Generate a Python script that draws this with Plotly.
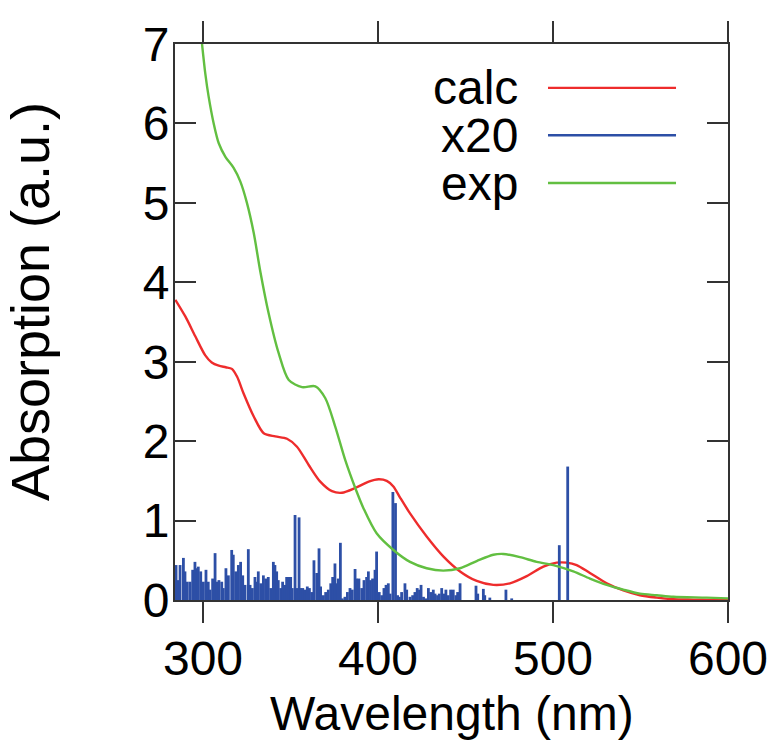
import plotly.graph_objects as go

# ---- data ----
calc_wl = [284.2, 289.9, 295.6, 301.3, 305.0, 309.0, 313.0, 316.5, 319.5, 323.2, 329.0, 334.7, 341.3, 348.0,
           353.7, 360.4, 367.0, 373.7, 379.4, 387.0, 394.7, 400.4, 405.0, 408.8, 412.6, 418.3, 427.8,
           437.3, 446.9, 456.4, 465.9, 475.4, 485.0, 494.5, 502.1, 507.8, 513.5, 521.1, 530.7,
           540.2, 549.7, 559.3, 568.8, 580.0, 590.0, 600.0]
calc_abs = [3.78, 3.57, 3.32, 3.08, 2.99, 2.95, 2.93, 2.91, 2.81, 2.60, 2.31, 2.10, 2.06, 2.03,
            1.93, 1.70, 1.49, 1.37, 1.35, 1.41, 1.49, 1.52, 1.50, 1.43, 1.29, 1.09, 0.80,
            0.55, 0.36, 0.24, 0.19, 0.21, 0.30, 0.42, 0.47, 0.47, 0.44, 0.34, 0.21,
            0.12, 0.06, 0.03, 0.01, 0.005, 0.002, 0.0]

exp_wl = [299.4, 301.3, 303.2, 306.1, 309.0, 312.8, 317.5, 321.3, 325.1, 329.0, 332.8, 337.5,
          343.2, 349.0, 356.6, 364.2, 369.9, 375.6, 381.3, 387.0, 391.8, 399.2, 408.8, 418.3,
          427.8, 437.3, 446.9, 456.4, 465.9, 471.6, 481.1, 490.7, 500.2, 511.6, 521.1, 530.7,
          540.2, 549.7, 559.3, 568.8, 587.8, 600.0]
exp_abs = [7.01, 6.63, 6.34, 6.00, 5.75, 5.58, 5.44, 5.27, 5.00, 4.62, 4.13, 3.61,
           3.11, 2.77, 2.68, 2.69, 2.54, 2.18, 1.76, 1.41, 1.15, 0.84, 0.63, 0.48,
           0.40, 0.37, 0.40, 0.49, 0.57, 0.58, 0.54, 0.48, 0.44, 0.36, 0.27, 0.19,
           0.13, 0.08, 0.06, 0.04, 0.03, 0.02]

stick_wl = [284.6, 285.9, 286.9, 288.8, 289.7, 291.0, 292.6, 294.1, 295.4, 296.4, 297.3, 298.7,
            300.2, 301.7, 303.0, 304.0, 305.5, 306.9, 307.8, 309.1, 310.7, 311.6, 313.1, 314.5,
            316.4, 317.3, 318.7, 320.2, 321.5, 322.7, 324.0, 325.9, 326.9, 328.2, 329.7, 330.7,
            331.6, 333.0, 334.5, 335.8, 337.3, 338.7, 340.2, 341.1, 342.1, 343.0, 344.4, 345.5,
            346.9, 347.8, 349.1, 350.1, 351.0, 352.6, 353.7, 354.9, 355.8, 357.0, 358.3, 359.6,
            360.8, 362.1, 363.4, 365.0, 366.3, 367.2, 368.8, 370.1, 371.6, 373.0, 374.1, 375.4,
            376.4, 377.3, 378.5, 379.6, 381.1, 382.5, 384.0, 385.3, 386.9, 387.8, 389.1, 390.7,
            392.0, 393.5, 394.5, 395.7, 396.9, 398.3, 399.2, 400.7, 402.1, 403.4, 404.6, 405.9,
            406.9, 408.5, 410.0, 411.2, 412.2, 413.5, 415.4, 416.4, 418.3, 419.8, 421.1, 422.4,
            423.7, 424.6, 426.0, 427.2, 428.8, 430.1, 431.6, 432.6, 434.0, 435.0, 436.4, 437.6,
            438.8, 440.1, 441.5, 443.0, 444.5, 445.5, 446.9, 456.0, 457.0, 460.2, 461.0, 463.9,
            473.1, 476.4, 503.6, 508.4]
stick_x20 = [0.44, 0.25, 0.44, 0.53, 0.36, 0.23, 0.23, 0.38, 0.48, 0.40, 0.42, 0.36,
             0.23, 0.38, 0.23, 0.13, 0.27, 0.59, 0.23, 0.25, 0.23, 0.15, 0.40, 0.31,
             0.63, 0.57, 0.36, 0.44, 0.48, 0.31, 0.19, 0.64, 0.19, 0.15, 0.29, 0.23,
             0.36, 0.21, 0.31, 0.27, 0.29, 0.15, 0.48, 0.44, 0.36, 0.25, 0.15, 0.23,
             0.19, 0.29, 0.29, 0.29, 0.15, 1.07, 0.15, 1.04, 0.15, 0.15, 0.13, 0.17,
             0.15, 0.10, 0.50, 0.34, 0.65, 0.17, 0.06, 0.10, 0.13, 0.21, 0.29, 0.46,
             0.21, 0.27, 0.72, 0.02, 0.04, 0.10, 0.15, 0.13, 0.39, 0.27, 0.27, 0.15,
             0.25, 0.29, 0.36, 0.25, 0.27, 0.38, 0.61, 0.10, 0.06, 0.15, 0.19, 0.21,
             0.08, 1.36, 1.22, 0.06, 0.04, 0.10, 0.21, 0.13, 0.04, 0.06, 0.10, 0.15,
             0.13, 0.19, 0.04, 0.02, 0.15, 0.10, 0.13, 0.08, 0.06, 0.08, 0.15, 0.08,
             0.13, 0.06, 0.13, 0.13, 0.06, 0.10, 0.21, 0.18, 0.08, 0.14, 0.06, 0.03,
             0.13, 0.02, 0.69, 1.68]

x_ticks = [300, 400, 500, 600]
y_ticks = [0, 1, 2, 3, 4, 5, 6, 7]
series_names = ["calc", "x20", "exp"]

RED = "#ee2c2c"
BLUE = "#2d4fa6"
GREEN = "#62bf41"
colors = [RED, BLUE, GREEN]

FONT = "Liberation Sans, Arial, sans-serif"

# build stick segments
sx, sy = [], []
for w, h in zip(stick_wl, stick_x20):
    sx += [w, w, None]
    sy += [0, h, None]

fig = go.Figure()
fig.add_trace(go.Scatter(x=calc_wl, y=calc_abs, mode="lines",
                         line=dict(color=RED, width=2.4, shape="spline", smoothing=0.8),
                         name="calc", showlegend=False))
fig.add_trace(go.Scatter(x=sx, y=sy, mode="lines", line=dict(color=BLUE, width=2.8),
                         name="x20", showlegend=False, connectgaps=False))
fig.add_trace(go.Scatter(x=exp_wl, y=exp_abs, mode="lines",
                         line=dict(color=GREEN, width=2.4, shape="spline", smoothing=0.8),
                         name="exp", showlegend=False))

axis_common = dict(showgrid=False, zeroline=False, showline=True, linecolor="#333333", linewidth=2,
                   mirror="ticks", tickcolor="#333333", tickwidth=2, ticklen=21, automargin=False,
                   tickfont=dict(family=FONT, size=48, color="black"))

fig.update_xaxes(range=[284, 600], tickvals=x_ticks, ticktext=[str(t) for t in x_ticks],
                 ticks="outside", ticklabelstandoff=-6, **axis_common)
fig.update_yaxes(range=[0, 7], tickvals=y_ticks, ticktext=[str(t) for t in y_ticks],
                 ticks="inside", ticklabelstandoff=-6, **axis_common)

# legend (text left of the sample line, like the original)
leg_y = [0.921, 0.836, 0.750]
annotations = []
shapes = []
for name, col, yy in zip(series_names, colors, leg_y):
    annotations.append(dict(text=name, x=0.624, y=yy, xref="paper", yref="paper",
                            xanchor="right", yanchor="middle", showarrow=False,
                            font=dict(family=FONT, size=48, color="black")))
    shapes.append(dict(type="line", xref="paper", yref="paper", x0=0.6745, x1=0.906, y0=yy, y1=yy,
                       line=dict(color=col, width=2.4)))

annotations.append(dict(text="Wavelength (nm)", x=0.5, y=-0.205, xref="paper", yref="paper",
                        xanchor="center", yanchor="middle", showarrow=False,
                        font=dict(family=FONT, size=48, color="black")))
annotations.append(dict(text="Absorption (a.u.)", x=-0.262, y=0.536, xref="paper", yref="paper",
                        xanchor="center", yanchor="middle", showarrow=False, textangle=-90,
                        font=dict(family=FONT, size=54, color="black")))

fig.update_layout(width=776, height=753, margin=dict(l=175, r=48, t=44, b=153),
                  plot_bgcolor="white", paper_bgcolor="white",
                  annotations=annotations, shapes=shapes, showlegend=False)

fig.write_html("out.html")
